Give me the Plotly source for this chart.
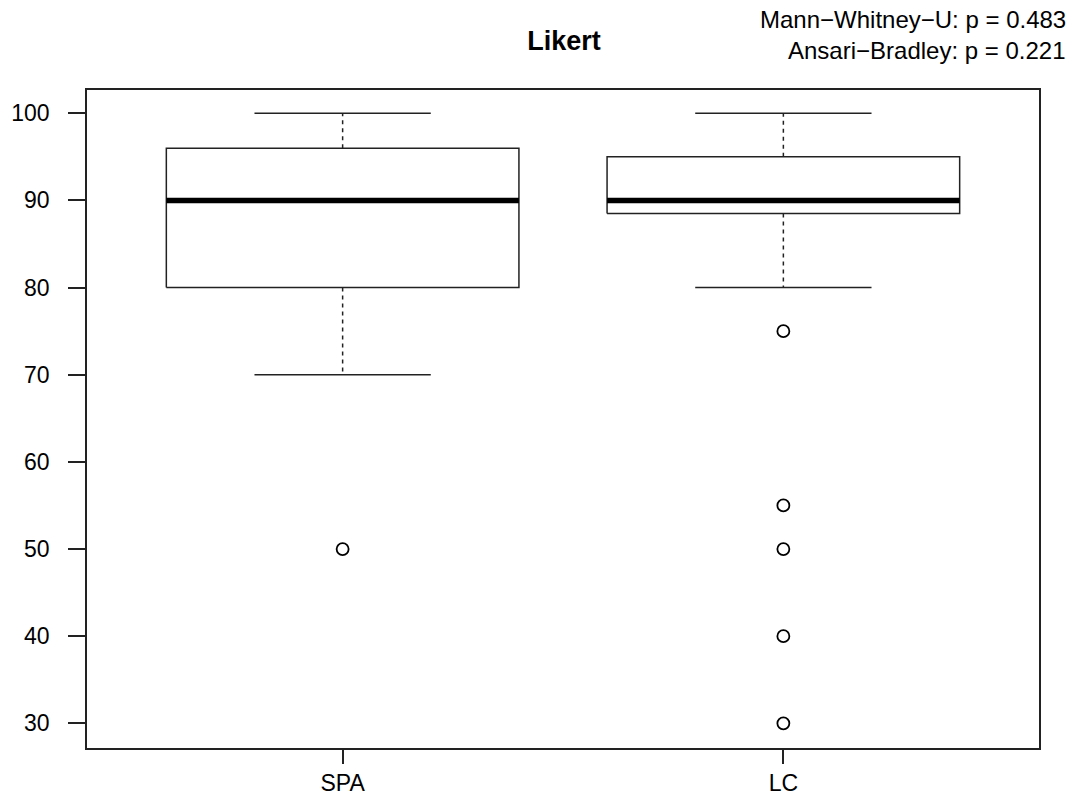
import plotly.graph_objects as go

groups = ["SPA", "LC"]
positions = [1, 2]
q1 = [80, 88.5]
median = [90, 90]
q3 = [96, 95]
whisker_low = [70, 80]
whisker_high = [100, 100]
outliers = {"SPA": [50], "LC": [75, 55, 50, 40, 30]}
y_ticks = [30, 40, 50, 60, 70, 80, 90, 100]

title = "Likert"
stat_lines = ["Mann\u2212Whitney\u2212U: p = 0.483", "Ansari\u2212Bradley: p = 0.221"]

box_half = 0.4
cap_half = 0.2
line_col = "#222222"
font_fam = "Liberation Sans, Arial, sans-serif"

fig = go.Figure()
for i, g in enumerate(groups):
    x = positions[i]
    fig.add_trace(go.Scatter(
        x=[x - box_half, x + box_half, x + box_half, x - box_half, x - box_half],
        y=[q1[i], q1[i], q3[i], q3[i], q1[i]],
        mode="lines", line=dict(color=line_col, width=1.5), hoverinfo="skip"))
    fig.add_trace(go.Scatter(
        x=[x, x, None, x, x],
        y=[q3[i], whisker_high[i], None, q1[i], whisker_low[i]],
        mode="lines", line=dict(color=line_col, width=1.5, dash="4px,4px"), hoverinfo="skip"))
    fig.add_trace(go.Scatter(
        x=[x - cap_half, x + cap_half, None, x - cap_half, x + cap_half],
        y=[whisker_high[i], whisker_high[i], None, whisker_low[i], whisker_low[i]],
        mode="lines", line=dict(color=line_col, width=1.5), hoverinfo="skip"))
    fig.add_trace(go.Scatter(
        x=[x - box_half, x + box_half], y=[median[i], median[i]],
        mode="lines", line=dict(color="black", width=5.5), hoverinfo="skip"))
    fig.add_trace(go.Scatter(
        x=[x] * len(outliers[g]), y=outliers[g], mode="markers",
        marker=dict(symbol="circle-open", size=12, color="black", line=dict(width=1.8)),
        hoverinfo="skip"))

annotations = []
for j, txt in enumerate(stat_lines):
    annotations.append(dict(
        text=txt, xref="paper", yref="paper",
        x=(1068 - 87) / 952, y=(748 - (20 + 30 * j)) / 658,
        xanchor="right", yanchor="middle", showarrow=False,
        font=dict(family=font_fam, size=24, color="black")))

fig.update_layout(
    width=1076, height=796,
    margin=dict(l=87, r=37, t=90, b=48, autoexpand=False),
    paper_bgcolor="white", plot_bgcolor="white",
    showlegend=False,
    title=dict(text="<b>" + title + "</b>", x=564 / 1076, xref="container", xanchor="center",
               y=1 - 41 / 796, yanchor="middle",
               font=dict(family=font_fam, size=27, color="black")),
    annotations=annotations,
    font=dict(family=font_fam, size=23, color="black"),
)
fig.update_xaxes(
    range=[0.42, 2.58], tickvals=positions, ticktext=groups,
    showgrid=False, zeroline=False, showline=True, mirror=True,
    linecolor=line_col, linewidth=1.5, automargin=False,
    ticks="outside", ticklen=14, tickwidth=1.5, tickcolor=line_col,
    ticklabelstandoff=0,
)
fig.update_yaxes(
    range=[27.17, 102.67], tickvals=y_ticks,
    showgrid=False, zeroline=False, showline=True, mirror=True,
    linecolor=line_col, linewidth=1.5, automargin=False,
    ticks="outside", ticklen=17, tickwidth=1.5, tickcolor=line_col,
    ticklabelstandoff=14,
)
fig.write_html("out.html")
